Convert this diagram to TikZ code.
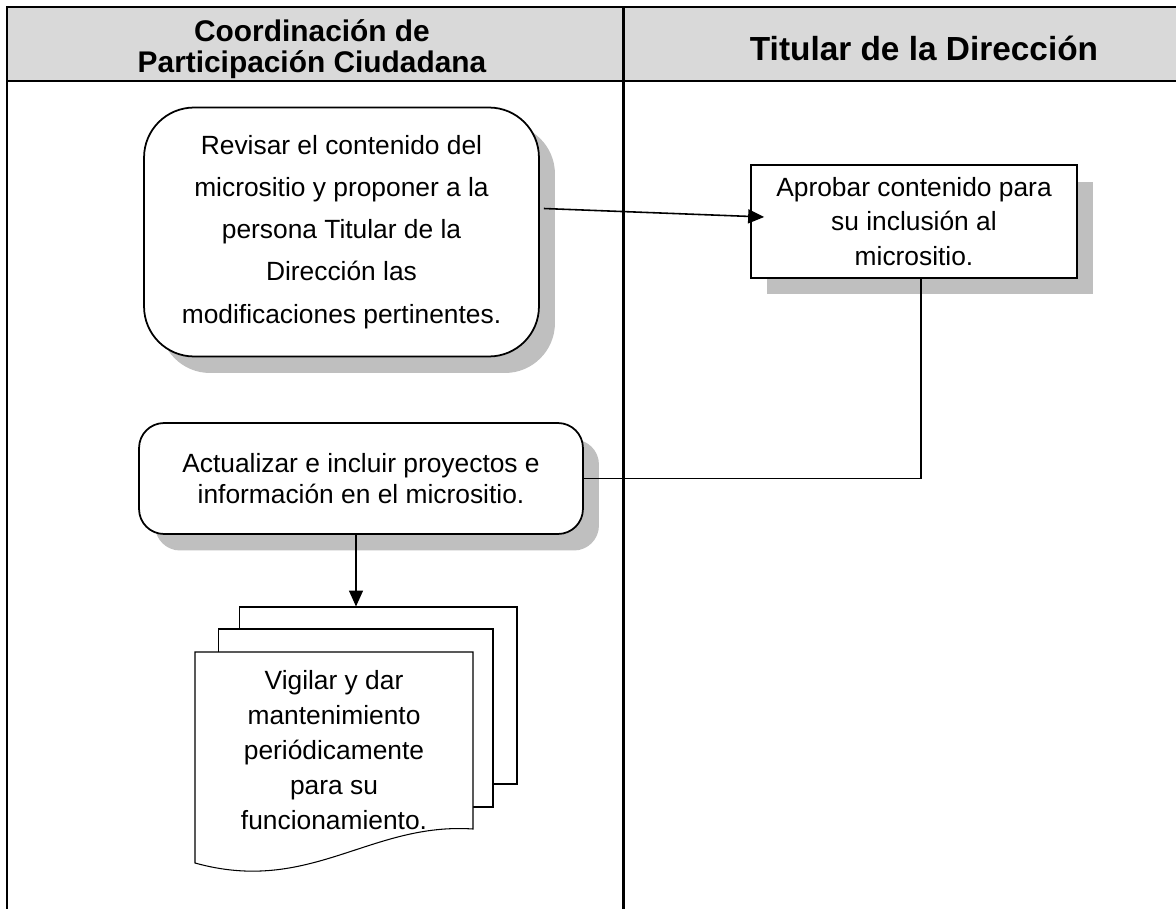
\documentclass[tikz,border=0pt]{standalone}
\usepackage{fontspec}
\setmainfont{Liberation Sans}
\usetikzlibrary{arrows.meta,positioning,shadows,calc}

\begin{document}
\begin{tikzpicture}[
  x=0.02cm, y=-0.02cm,
  lane/.style={line width=1.7pt, line join=miter},
  hdr/.style={font=\fontsize{17}{17.5}\selectfont\bfseries, align=center},
  rbox/.style={rectangle, draw=black, line width=1pt, fill=white, align=center,
               font=\fontsize{15}{18}\selectfont,
               general shadow={shadow xshift=0.32cm, shadow yshift=-0.33cm, fill=black!25}},
  sbox/.style={rbox, rounded corners=0pt},
  page/.style={rectangle, draw=black, line width=0.6pt, fill=white, inner sep=0pt},
  arr/.style={-{Triangle[length=0.32cm, width=0.28cm]}, line width=0.9pt},
  link/.style={line width=0.6pt},
]
  \useasboundingbox (0,0) rectangle (1176,909);

  % swimlane table
  \fill[black!15] (7,7) rectangle (1176,81);
  \draw[lane] (1176,7) -- (7,7) -- (7,909);
  \draw[lane] (7,81) -- (1176,81);
  \draw[lane] (623,7) -- (623,909);
  \node[hdr] (lane1) at (312,49) {Coordinación de\\Participación Ciudadana};
  \node[hdr, font=\fontsize{19}{20}\selectfont\bfseries] (lane2) at (924,48) {Titular de la Dirección};

  % activities
  \node[rbox, rounded corners=1cm, minimum width=7.9cm, minimum height=4.98cm,
        font=\fontsize{15}{24}\selectfont] (revisar) at (341.5,232)
    {Revisar el contenido del\\micrositio y proponer a la\\persona Titular de la\\Dirección las\\modificaciones pertinentes.};
  \node[sbox, minimum width=6.52cm, minimum height=2.26cm,
        font=\fontsize{15}{19.5}\selectfont] (aprobar) at (914,221.5)
    {Aprobar contenido para\\su inclusión al\\micrositio.};
  \node[rbox, rounded corners=0.5cm, minimum width=8.88cm, minimum height=2.22cm] (actualizar) at (361,478.5)
    {Actualizar e incluir proyectos e\\información en el micrositio.};

  % multiple documents
  \node[page, minimum width=5.56cm, minimum height=3.54cm] (doc3) at (378,695.5) {};
  \node[page, minimum width=5.5cm, minimum height=3.56cm] (doc2) at (355.5,718) {};
  \draw[fill=white, line width=0.6pt] (195,652) -- (473,652) -- (473,829)
    .. controls (370,822) and (310,895) .. (195,863) -- cycle;
  \node[font=\fontsize{15}{20}\selectfont, align=center] (vigilar) at (334,750)
    {Vigilar y dar\\mantenimiento\\periódicamente\\para su\\funcionamiento.};

  % connectors
  \draw[arr] ([xshift=0.08cm, yshift=0.47cm]revisar.east) -- ([xshift=0.28cm, yshift=0.09cm]aprobar.west);
  \draw[link] ([xshift=0.14cm]aprobar.south) |- (actualizar.east);
  \draw[arr] ([xshift=-0.1cm]actualizar.south) -- ([xshift=-0.1cm]actualizar.south |- doc3.north);
\end{tikzpicture}
\end{document}
